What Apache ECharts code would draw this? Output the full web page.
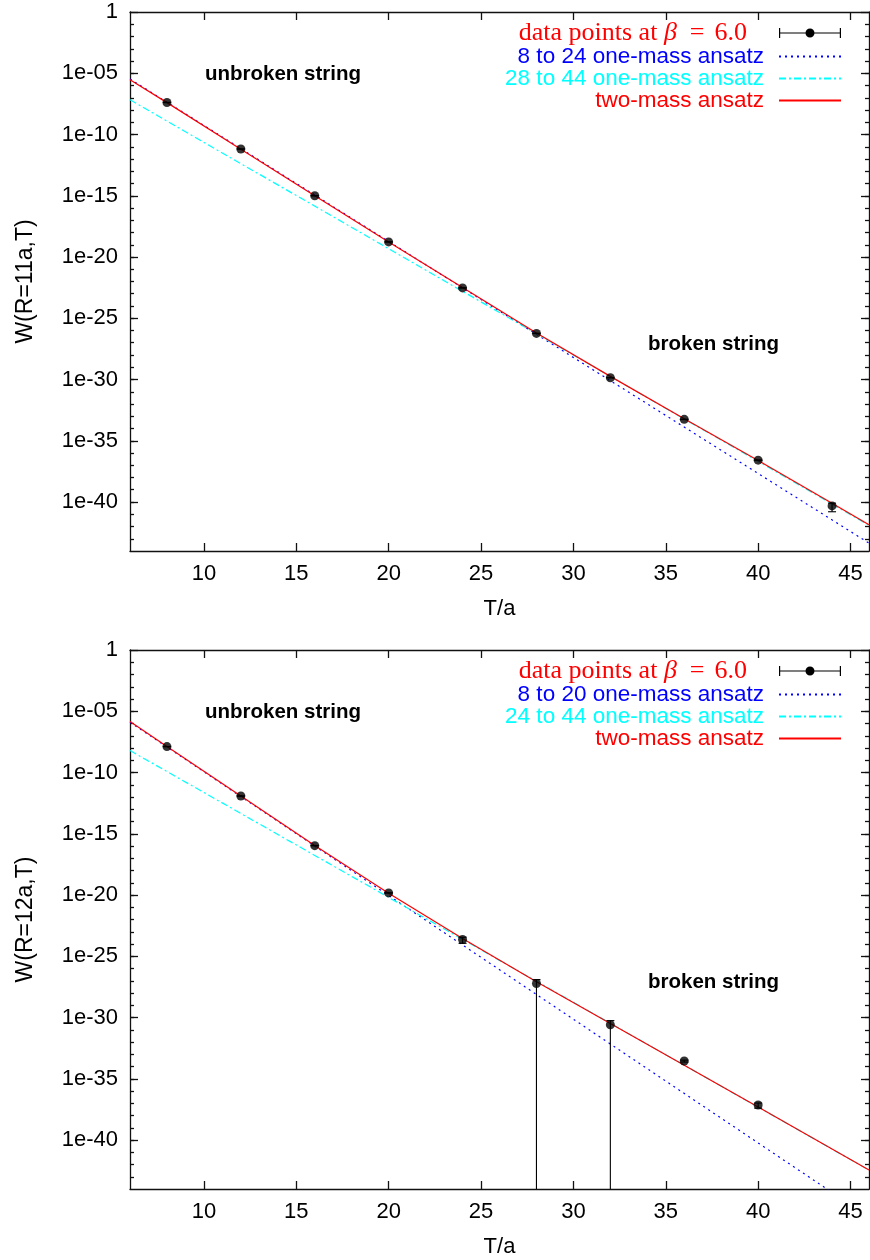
<!DOCTYPE html>
<html>
<head>
<meta charset="utf-8">
<script src="https://cdn.jsdelivr.net/npm/echarts@6/dist/echarts.min.js"></script>
<style>
  html, body { margin: 0; padding: 0; background: #fff; }
  #chart { width: 870px; height: 1260px; }
</style>
</head>
<body>
<div id="chart"></div>
<script>
// ---- Wilson loops W(R,T) at beta = 6.0, with one- and two-mass fits ----

// R = 11a
const tTop = [8, 12, 16, 20, 24, 28, 32, 36, 40, 44];
const wTop = [4.1e-8, 6.5e-12, 1.0e-15, 1.7e-19, 3.0e-23, 5.8e-27, 1.4e-30, 5.6e-34, 2.6e-37, 4.8e-41];
const errTop = [1.2e-9, 2e-13, 3e-17, 5e-21, 1e-24, 2e-28, 5e-32, 2e-35, 1e-38, 3.2e-41];
const fitEndsT = [6, 46];
const earlyFitTop = [3.4e-6, 4.4e-44];      // 8 to 24 one-mass ansatz
const lateFitTop = [6.8e-8, 1.26e-42];      // 28 to 44 one-mass ansatz
const twoMassTopT = [6, 8, 12, 16, 20, 24, 28, 32, 36, 40, 44, 46];
const twoMassTop = [3.0e-6, 4.0e-8, 6.3e-12, 1.0e-15, 1.7e-19, 3.2e-23, 6.3e-27, 1.8e-30, 6.3e-34, 2.4e-37, 7.9e-41, 1.4e-42];

// R = 12a
const tBot = [8, 12, 16, 20, 24, 28, 32, 36, 40];
const wBot = [1.3e-8, 1.2e-12, 1.07e-16, 1.48e-20, 2.34e-24, 6.0e-28, 2.57e-31, 2.8e-34, 7.2e-38];
const errBot = [4e-10, 4e-14, 3e-18, 5e-22, 1.2e-24, 6.5e-28, 3.0e-31, 5e-35, 3.2e-38];
const earlyFitBot = [1.26e-6, 5e-47];       // 8 to 20 one-mass ansatz
const lateFitBot = [6.2e-9, 3.5e-43];       // 24 to 44 one-mass ansatz
const twoMassBotT = [6, 8, 12, 16, 20, 24, 28, 32, 36, 40, 46];
const twoMassBot = [1.45e-6, 1.3e-8, 1.2e-12, 1.1e-16, 1.4e-20, 2.8e-24, 8.3e-28, 3.2e-31, 1.26e-34, 5.0e-38, 3.6e-43];

// axes
const X_MIN = 6, X_MAX = 46;
const xTicks = [10, 15, 20, 25, 30, 35, 40, 45];
const Y_MIN = 1e-44, Y_MAX = 1;
const yTickValues = [1, 1e-5, 1e-10, 1e-15, 1e-20, 1e-25, 1e-30, 1e-35, 1e-40];
const yTickLabels = ['1', '1e-05', '1e-10', '1e-15', '1e-20', '1e-25', '1e-30', '1e-35', '1e-40'];
const yMinorValues = [];
for (let k = 1; k <= 43; k++) yMinorValues.push(Number('1e-' + k));

const DATA_NAME = 'data points at β = 6.0';
const TWO_MASS = 'two-mass ansatz';

const SANS = '"Liberation Sans", Arial, Helvetica, sans-serif';
const SERIF = '"Liberation Serif", "Times New Roman", serif';
const BLACK = '#000000', RED = '#ff0000', BLUE = '#0000ff', CYAN = '#00ffff';
const FRAME = { color: '#111', width: 1.3 };
const HIDDEN_SYMBOL = { color: 'rgba(0,0,0,0)', borderColor: 'rgba(0,0,0,0)', borderWidth: 0, opacity: 0 };

function yLabel(v) {
  const lv = Math.log10(v);
  let best = 0;
  yTickValues.forEach((t, i) => {
    if (Math.abs(Math.log10(t) - lv) < Math.abs(Math.log10(yTickValues[best]) - lv)) best = i;
  });
  return yTickLabels[best];
}

function pairs(xs, ys) { return xs.map((x, i) => [x, ys[i]]); }

// vertical error bar with caps; a lower end at or below zero runs to the axis floor
function renderErrorBar(params, api) {
  const x = api.value(0), y = api.value(1), e = api.value(2);
  const lowVal = y - e;
  const hi = api.coord([x, y + e]);
  const lo = api.coord([x, lowVal > Y_MIN ? lowVal : Y_MIN]);
  const cap = 4;
  const st = { stroke: BLACK, lineWidth: 1.1 };
  const children = [
    { type: 'line', shape: { x1: hi[0], y1: hi[1], x2: lo[0], y2: lo[1] }, style: st },
    { type: 'line', shape: { x1: hi[0] - cap, y1: hi[1], x2: hi[0] + cap, y2: hi[1] }, style: st }
  ];
  if (lowVal > Y_MIN) {
    children.push({ type: 'line', shape: { x1: lo[0] - cap, y1: lo[1], x2: lo[0] + cap, y2: lo[1] }, style: st });
  }
  return { type: 'group', children };
}

const xAxes = [], yAxes = [], series = [], legends = [], grids = [];

function addPanel(g, top, yName, d) {
  grids.push({ left: 130, top: top, width: 739, height: 539 });
  const xb = xAxes.length;
  xAxes.push({
    gridIndex: g, type: 'value', min: X_MIN, max: X_MAX, position: 'bottom',
    name: 'T/a', nameLocation: 'middle', nameGap: 47,
    nameTextStyle: { fontFamily: SANS, fontSize: 22, color: BLACK },
    axisLine: { show: true, onZero: false, lineStyle: FRAME },
    axisTick: { show: true, inside: true, length: 8, customValues: xTicks, lineStyle: FRAME },
    axisLabel: { show: true, customValues: xTicks, margin: 12, fontFamily: SANS, fontSize: 22, color: BLACK },
    splitLine: { show: false }
  });
  xAxes.push({
    gridIndex: g, type: 'value', min: X_MIN, max: X_MAX, position: 'top',
    axisLine: { show: true, onZero: false, lineStyle: FRAME },
    axisTick: { show: true, inside: true, length: 8, customValues: xTicks, lineStyle: FRAME },
    axisLabel: { show: false }, splitLine: { show: false }
  });
  const yl = yAxes.length;
  ['left', 'right'].forEach(pos => {
    yAxes.push({
      gridIndex: g, type: 'log', logBase: 10, min: Y_MIN, max: Y_MAX, position: pos,
      name: pos === 'left' ? yName : '', nameLocation: 'middle', nameGap: 93, nameRotate: 90,
      nameTextStyle: { fontFamily: SANS, fontSize: 23, color: BLACK },
      axisLine: { show: true, onZero: false, lineStyle: FRAME },
      axisTick: { show: true, inside: true, length: 8, customValues: yTickValues, lineStyle: FRAME },
      axisLabel: { show: pos === 'left', customValues: yTickValues, margin: 12, formatter: yLabel,
                   fontFamily: SANS, fontSize: 22, color: BLACK },
      splitLine: { show: false }
    });
    yAxes.push({
      gridIndex: g, type: 'log', logBase: 10, min: Y_MIN, max: Y_MAX, position: pos,
      axisLine: { show: false },
      axisTick: { show: true, inside: true, length: 4, customValues: yMinorValues, lineStyle: FRAME },
      axisLabel: { show: false }, splitLine: { show: false }
    });
  });

  const common = { xAxisIndex: xb, yAxisIndex: yl, symbol: 'none', silent: true, animation: false };
  series.push(Object.assign({
    type: 'line', name: d.earlyName, data: pairs(fitEndsT, d.early),
    lineStyle: { color: BLUE, width: 1.2, type: [2, 4] }, itemStyle: { color: BLUE }, z: 2
  }, common));
  series.push(Object.assign({
    type: 'line', name: d.lateName, data: pairs(fitEndsT, d.late),
    lineStyle: { color: CYAN, width: 1.2, type: [7, 3, 2, 3] }, itemStyle: { color: CYAN }, z: 2
  }, common));
  series.push(Object.assign({
    type: 'line', name: TWO_MASS, data: pairs(d.twoT, d.two),
    lineStyle: { color: RED, width: 1.2 }, itemStyle: { color: RED }, z: 3
  }, common));
  series.push({
    type: 'custom', name: DATA_NAME, xAxisIndex: xb, yAxisIndex: yl, silent: true,
    data: d.t.map((t, i) => [t, d.w[i], d.err[i]]),
    encode: { x: 0, y: 1 }, renderItem: renderErrorBar, itemStyle: { color: BLACK }, z: 4
  });
  series.push({
    type: 'scatter', name: DATA_NAME, xAxisIndex: xb, yAxisIndex: yl, silent: true,
    data: pairs(d.t, d.w), symbol: 'circle', symbolSize: 9, itemStyle: { color: BLACK }, z: 5
  });

  legends.push({
    orient: 'vertical', align: 'right', right: 28, top: top + 8, padding: 0,
    itemWidth: 62, itemHeight: 10, itemGap: -1, selectedMode: false, inactiveColor: BLACK,
    textStyle: {
      fontFamily: SANS, fontSize: 22.5, lineHeight: 22, padding: [0, 10, 0, 0],
      rich: {
        s: { fontFamily: SERIF, fontSize: 26, color: RED, lineHeight: 22 },
        b: { fontFamily: SERIF, fontStyle: 'italic', fontSize: 26, color: RED, lineHeight: 22, padding: [0, 2, 0, 0] },
        e: { fontFamily: SERIF, fontSize: 26, color: RED, lineHeight: 22, padding: [0, 10, 0, 11] },
        n: { fontFamily: SERIF, fontSize: 26, color: RED, lineHeight: 22, padding: [0, 17, 0, 0] }
      }
    },
    formatter: name => name === DATA_NAME ? '{s|data points at }{b|β}{e|=}{n|6.0}' : name,
    data: [
      { name: DATA_NAME, textStyle: { color: RED },
        icon: 'path://M0 0h1.2v10h-1.2z M60.8 0h1.2v10h-1.2z M0 4.4h62v1.2h-62z M26.5 5a4.5 4.5 0 1 1 9 0a4.5 4.5 0 1 1 -9 0z' },
      { name: d.earlyName, textStyle: { color: BLUE }, itemStyle: HIDDEN_SYMBOL },
      { name: d.lateName, textStyle: { color: CYAN }, itemStyle: HIDDEN_SYMBOL },
      { name: TWO_MASS, textStyle: { color: RED }, itemStyle: HIDDEN_SYMBOL }
    ]
  });
}

addPanel(0, 12, 'W(R=11a,T)', {
  t: tTop, w: wTop, err: errTop, early: earlyFitTop, late: lateFitTop,
  twoT: twoMassTopT, two: twoMassTop,
  earlyName: '8 to 24 one-mass ansatz', lateName: '28 to 44 one-mass ansatz'
});
addPanel(1, 650, 'W(R=12a,T)', {
  t: tBot, w: wBot, err: errBot, early: earlyFitBot, late: lateFitBot,
  twoT: twoMassBotT, two: twoMassBot,
  earlyName: '8 to 20 one-mass ansatz', lateName: '24 to 44 one-mass ansatz'
});

const noteStyle = { fontFamily: SANS, fontWeight: 'bold', fontSize: 20.5, fill: BLACK };
const notes = [
  { text: 'unbroken string', left: 205, top: 64 },
  { text: 'broken string', left: 648, top: 334 },
  { text: 'unbroken string', left: 205, top: 702 },
  { text: 'broken string', left: 648, top: 972 }
];

const chart = echarts.init(document.getElementById('chart'), null, { renderer: 'canvas' });
chart.setOption({
  animation: false,
  backgroundColor: '#ffffff',
  grid: grids,
  xAxis: xAxes,
  yAxis: yAxes,
  legend: legends,
  series: series,
  graphic: notes.map(n => ({
    type: 'text', left: n.left, top: n.top, silent: true,
    style: Object.assign({ text: n.text }, noteStyle)
  }))
});
</script>
</body>
</html>
